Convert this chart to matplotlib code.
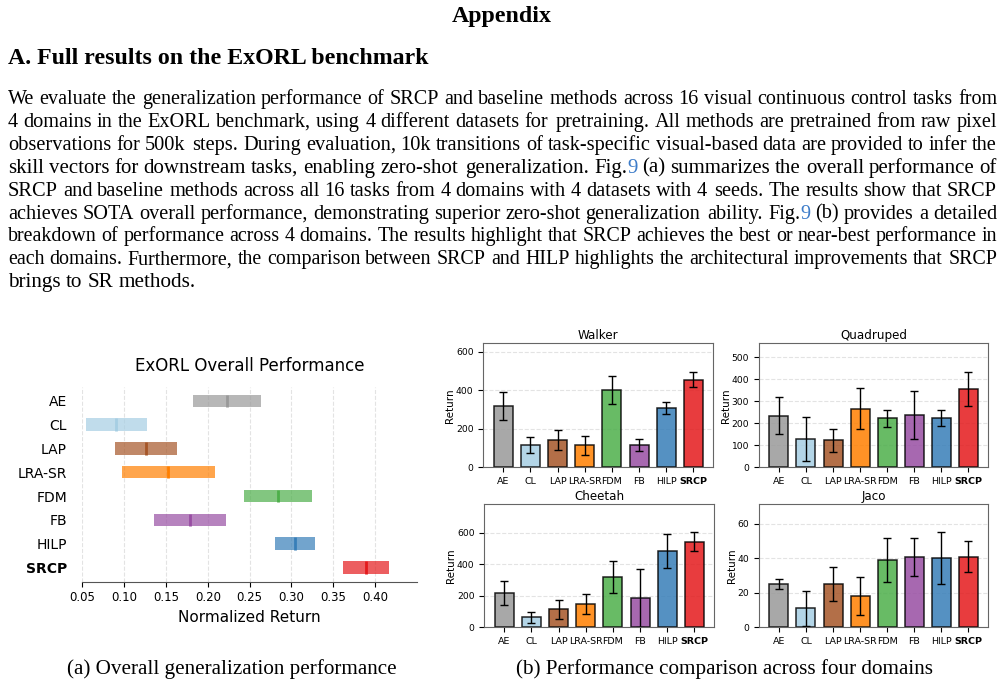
import matplotlib
matplotlib.use("Agg")
import matplotlib.pyplot as plt
import numpy as np

W, H = 1005, 687

methods = ["AE", "CL", "LAP", "LRA-SR", "FDM", "FB", "HILP", "SRCP"]
colors = ["#999999", "#a6cee3", "#a65628", "#ff7f00", "#4daf4a", "#984ea3", "#377eb8", "#e41a1c"]

# overall normalized return (interval estimates)
overall_low = [0.182, 0.054, 0.089, 0.098, 0.243, 0.136, 0.280, 0.362]
overall_high = [0.264, 0.127, 0.163, 0.208, 0.325, 0.222, 0.328, 0.416]
overall_med = [0.223, 0.090, 0.126, 0.153, 0.284, 0.179, 0.304, 0.389]

# per-domain returns (mean, error)
walker_mean = [318, 115, 141, 114, 402, 114, 309, 455]
walker_err = [75, 43, 50, 50, 72, 32, 32, 40]
quadruped_mean = [235, 129, 123, 267, 223, 238, 223, 356]
quadruped_err = [85, 102, 52, 92, 38, 111, 36, 78]
cheetah_mean = [220, 63, 114, 148, 319, 184, 484, 543]
cheetah_err = [76, 36, 60, 66, 99, 184, 107, 58]
jaco_mean = [25, 11, 25, 18, 39, 41, 40, 41]
jaco_err = [3, 10, 10, 11, 13, 11, 15, 9]

domains = [("Walker", walker_mean, walker_err),
           ("Quadruped", quadruped_mean, quadruped_err),
           ("Cheetah", cheetah_mean, cheetah_err),
           ("Jaco", jaco_mean, jaco_err)]

body = [
    "We evaluate the generalization performance of SRCP and baseline methods across 16 visual continuous control tasks from",
    "4 domains in the ExORL benchmark, using 4 different datasets for pretraining.  All methods are pretrained from raw pixel",
    "observations for 500k steps.  During evaluation, 10k transitions of task-specific visual-based data are provided to infer the",
    "skill vectors for downstream tasks, enabling zero-shot generalization.  Fig.|9 (a) summarizes the overall performance of",
    "SRCP and baseline methods across all 16 tasks from 4 domains with 4 datasets with 4 seeds.  The results show that SRCP",
    "achieves SOTA overall performance, demonstrating superior zero-shot generalization ability.  Fig.|9 (b) provides a detailed",
    "breakdown of performance across 4 domains. The results highlight that SRCP achieves the best or near-best performance in",
    "each domains. Furthermore, the comparison between SRCP and HILP highlights the architectural improvements that SRCP",
    "brings to SR methods.",
]

fig = plt.figure(figsize=(W / 100, H / 100), dpi=100)
r = fig.canvas.get_renderer()
serif = "Liberation Serif"


def px(x, y):
    return x / W, 1 - y / H


def tw(s, **kw):
    t = fig.text(0, 0, s, **kw)
    w = t.get_window_extent(r).width
    t.remove()
    return w


fig.text(*px(502, 22), "Appendix", family=serif, weight="bold", size=17.2, ha="center")
fig.text(*px(8, 64), "A. Full results on the ExORL benchmark", family=serif, weight="bold", size=17.2)

# justified paragraph; shrink a line slightly if Liberation Serif runs wider than the original
fs0 = 15.2
x0, x1 = 8, 997
for i, line in enumerate(body):
    y = 104 + i * 22.9
    toks = line.split(" ")
    words, gaps = [], []
    for tk in toks:
        if tk == "":
            gaps[-1] += 0.5
            continue
        if words:
            gaps.append(1.0)
        words.append(tk)
    last = i == len(body) - 1
    w0 = sum(tw(p, family=serif, size=fs0) for w in words for p in w.split("|"))
    G = sum(gaps)
    fs = fs0 if last else min(fs0, (x1 - x0) / (w0 / fs0 + 0.24 * 100 / 72 * G))
    pw = [[tw(p, family=serif, size=fs) for p in w.split("|")] for w in words]
    total = sum(sum(v) for v in pw)
    if last:
        unit = 0.25 * fs * 100 / 72
    else:
        unit = (x1 - x0 - total) / G
    x = x0
    for j, w in enumerate(words):
        for k, p in enumerate(w.split("|")):
            c = "#3d7cc9" if k == 1 else "black"
            fig.text(*px(x, y), p, family=serif, size=fs, color=c)
            x += pw[j][k]
        if j < len(gaps):
            x += unit * gaps[j]

# (a) overall performance
ax = fig.add_axes([82.3 / W, 1 - 581.7 / H, (417 - 82.3) / W, (581.7 - 386.6) / H])
ypos = np.arange(len(methods))
for yi, lo, hi, md, c in zip(ypos, overall_low, overall_high, overall_med, colors):
    ax.barh(yi, hi - lo, left=lo, height=0.52, color=c, alpha=0.7)
    ax.vlines(md, yi - 0.26, yi + 0.26, color=c, lw=2)
ax.set_ylim(7.6, -0.6)
ax.set_xlim(0.05, 0.45)
ax.set_xticks(np.arange(0.05, 0.401, 0.05))
ax.set_xticklabels(["%.2f" % v for v in np.arange(0.05, 0.401, 0.05)], size=8.5)
ax.set_yticks(ypos)
ax.set_yticklabels(methods, size=10)
ax.get_yticklabels()[-1].set_fontweight("bold")
ax.tick_params(axis="y", length=0, pad=11)
for s in ["left", "top", "right"]:
    ax.spines[s].set_visible(False)
ax.spines["bottom"].set_color("#555555")
ax.grid(axis="x", ls="--", alpha=0.35)
ax.set_axisbelow(True)
ax.set_title("ExORL Overall Performance", size=12, pad=11)
ax.set_xlabel("Normalized Return", size=11)

# (b) per domain
boxes = [(483.3, 343.3, 713.3, 467.3), (759, 343.3, 988.3, 467.3),
         (484.3, 504, 714.3, 627.3), (759, 504, 988.3, 627.3)]
for (name, mean, err), (l, t, rr, b) in zip(domains, boxes):
    a = fig.add_axes([l / W, 1 - b / H, (rr - l) / W, (b - t) / H])
    xs = np.arange(len(methods))
    a.bar(xs, mean, yerr=err, width=0.7, color=colors, alpha=0.85, edgecolor="black",
          linewidth=1.1, capsize=3, error_kw=dict(elinewidth=1, ecolor="black"))
    a.set_ylim(0, 1.3 * max(m + e for m, e in zip(mean, err)))
    a.set_xticks(xs)
    a.set_xticklabels(methods, size=6.8)
    a.get_xticklabels()[-1].set_fontweight("bold")
    a.tick_params(axis="y", labelsize=6.6)
    a.set_title(name, size=8.6, pad=3)
    a.set_ylabel("Return", size=7.5, labelpad=0.5)
    a.grid(axis="y", ls="--", alpha=0.35)
    a.set_axisbelow(True)
    for s in a.spines.values():
        s.set_color("#666666")

fig.text(*px(232, 674), "(a) Overall generalization performance", family=serif, size=fs0, ha="center")
fig.text(*px(724, 674), "(b) Performance comparison across four domains", family=serif, size=fs0, ha="center")

fig.savefig("out.png", dpi=100)
